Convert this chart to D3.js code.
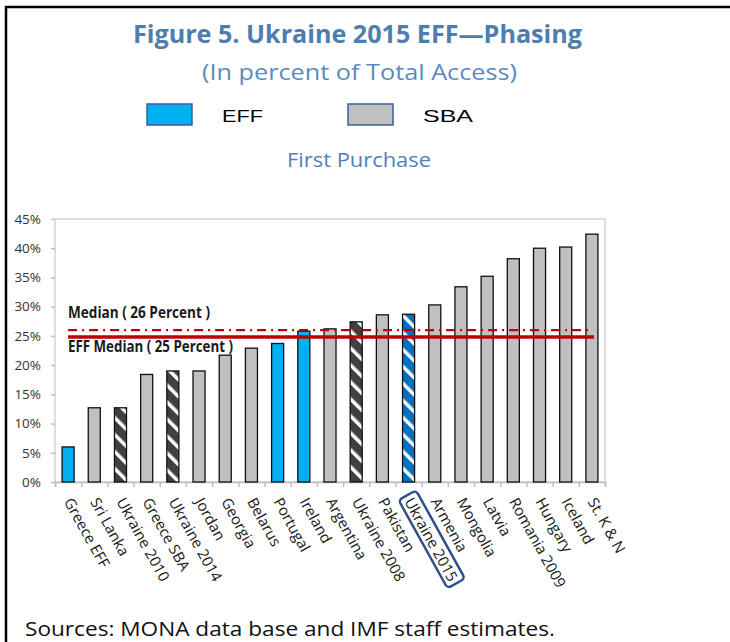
<!DOCTYPE html>
<html>
<head>
<meta charset="utf-8">
<script src="https://cdn.jsdelivr.net/npm/d3@7"></script>
<style>
  body { margin: 0; background: #fff; }
  svg { display: block; font-family: "Open Sans", sans-serif; }
</style>
</head>
<body>
<svg id="chart" width="730" height="642"></svg>
<script>
// data
const categories = ["Greece EFF", "Sri Lanka", "Ukraine 2010", "Greece SBA", "Ukraine 2014", "Jordan",
  "Georgia", "Belarus", "Portugal", "Ireland", "Argentina", "Ukraine 2008", "Pakistan", "Ukraine 2015",
  "Armenia", "Mongolia", "Latvia", "Romania 2009", "Hungary", "Iceland", "St. K & N"];
const values = [6.0, 12.7, 12.7, 18.4, 19.0, 19.0, 21.7, 22.9, 23.7, 25.8, 26.2, 27.4, 28.6, 28.7,
  30.3, 33.4, 35.2, 38.2, 40.0, 40.2, 42.4];
// eff / sba / ukrSba (hatched dark) / ukrEff (hatched blue)
const kinds = ["eff", "sba", "ukrSba", "sba", "ukrSba", "sba", "sba", "sba", "eff", "eff", "sba",
  "ukrSba", "sba", "ukrEff", "sba", "sba", "sba", "sba", "sba", "sba", "sba"];
const yTicks = [0, 5, 10, 15, 20, 25, 30, 35, 40, 45];
const medianLabels = ["Median ( 26 Percent )", "EFF Median ( 25 Percent )"];
const medianValues = [26, 24.8];
const legendItems = ["EFF", "SBA"];
const highlight = "Ukraine 2015";

const svg = d3.select("#chart");
const W = +svg.attr("width");

const fills = {
  eff: "#00b0f0",
  sba: "#c0c0c0",
  ukrSba: "url(#hatchDark)",
  ukrEff: "url(#hatchBlue)"
};

// hatch patterns
const defs = svg.append("defs");
[["hatchDark", "#404040"], ["hatchBlue", "#0070c0"]].forEach(([id, c]) => {
  const p = defs.append("pattern")
    .attr("id", id)
    .attr("patternUnits", "userSpaceOnUse")
    .attr("width", 12)
    .attr("height", 12)
    .attr("patternTransform", "rotate(-45)");
  p.append("rect").attr("width", 12).attr("height", 12).attr("fill", c);
  p.append("rect").attr("width", 3.5).attr("height", 12).attr("fill", "#fff");
});

// outer frame (only left and top visible)
svg.append("line").attr("x1", 6).attr("x2", 6).attr("y1", 6).attr("y2", 642)
  .attr("stroke", "#000").attr("stroke-width", 2.5);
svg.append("line").attr("x1", 5).attr("x2", W).attr("y1", 7).attr("y2", 7)
  .attr("stroke", "#000").attr("stroke-width", 2.5);

// titles
svg.append("text")
  .attr("x", 133).attr("y", 43)
  .attr("textLength", 449).attr("lengthAdjust", "spacingAndGlyphs")
  .style("font-size", "25px").style("font-weight", "bold")
  .attr("fill", "#4d7eae")
  .text("Figure 5. Ukraine 2015 EFF\u2014Phasing");

svg.append("text")
  .attr("x", 202).attr("y", 80)
  .attr("textLength", 315).attr("lengthAdjust", "spacingAndGlyphs")
  .style("font-size", "22px")
  .attr("fill", "#5a8bbf")
  .text("(In percent of Total Access)");

svg.append("text")
  .attr("x", 287).attr("y", 167)
  .attr("textLength", 144).attr("lengthAdjust", "spacingAndGlyphs")
  .style("font-size", "20px")
  .attr("fill", "#4f81bd")
  .text("First Purchase");

// legend
const legend = svg.append("g")
  .selectAll("g")
  .data(legendItems)
  .join("g")
  .attr("transform", (d, i) => `translate(${147 + i * 201},104)`);
legend.append("rect")
  .attr("width", 45).attr("height", 21)
  .attr("fill", (d) => (d === "EFF" ? fills.eff : fills.sba))
  .attr("stroke", "#3a5f9a").attr("stroke-width", 1.5);
legend.append("text")
  .attr("x", 75).attr("y", 18)
  .attr("textLength", (d) => (d === "EFF" ? 41 : 50)).attr("lengthAdjust", "spacingAndGlyphs")
  .style("font-family", "'Liberation Sans', Arial, sans-serif")
  .style("font-size", "16.5px")
  .attr("fill", "#000")
  .text((d) => d);

// scales
const x = d3.scaleBand()
  .domain(categories)
  .range([55, 605])
  .paddingInner(0.54)
  .paddingOuter(0.27);
const y = d3.scaleLinear().domain([0, 45]).range([482, 219]);
const xEdge = d3.scaleLinear().domain([0, categories.length]).range([55, 605]);

// plot frame
svg.append("rect")
  .attr("x", 55).attr("y", y(45))
  .attr("width", 550).attr("height", y(0) - y(45))
  .attr("fill", "none").attr("stroke", "#d4d4d4").attr("stroke-width", 1.5);

// y axis
const yAxis = svg.append("g")
  .attr("transform", "translate(55,0)")
  .call(d3.axisLeft(y).tickValues(yTicks).tickFormat((d) => d + "%").tickSize(4).tickPadding(10));
yAxis.select(".domain").remove();
yAxis.selectAll(".tick line").attr("stroke", "#bfbfbf").attr("stroke-width", 1.5);
yAxis.selectAll(".tick text")
  .style("font-family", "'Open Sans', sans-serif")
  .style("font-size", "13.5px")
  .attr("fill", "#333");

// x axis ticks at band edges
const xAxis = svg.append("g")
  .attr("transform", `translate(0,${y(0)})`)
  .call(d3.axisBottom(xEdge).tickValues(d3.range(categories.length + 1)).tickFormat("").tickSize(5));
xAxis.select(".domain").attr("stroke", "#bfbfbf").attr("stroke-width", 1.5);
xAxis.selectAll(".tick line").attr("stroke", "#bfbfbf").attr("stroke-width", 1.5);

// bars
svg.append("g")
  .selectAll("rect")
  .data(categories)
  .join("rect")
  .attr("x", (d) => x(d))
  .attr("y", (d, i) => y(values[i]))
  .attr("width", x.bandwidth())
  .attr("height", (d, i) => y(0) - y(values[i]))
  .attr("fill", (d, i) => fills[kinds[i]])
  .attr("stroke", "#111")
  .attr("stroke-width", 1.3);

// median lines
const first = x(categories[0]) + x.bandwidth() / 2;
const last = x(categories[categories.length - 1]) + x.bandwidth() / 2;
svg.append("line")
  .attr("x1", first).attr("x2", last)
  .attr("y1", y(medianValues[0])).attr("y2", y(medianValues[0]))
  .attr("stroke", "#c00000").attr("stroke-width", 2.2)
  .attr("stroke-dasharray", "9,5,2,5");
svg.append("line")
  .attr("x1", first).attr("x2", last + 2)
  .attr("y1", y(medianValues[1])).attr("y2", y(medianValues[1]))
  .attr("stroke", "#c00000").attr("stroke-width", 3.5);

svg.append("g")
  .selectAll("text")
  .data(medianLabels)
  .join("text")
  .attr("x", 68)
  .attr("y", (d, i) => (i === 0 ? y(medianValues[0]) - 12 : y(medianValues[1]) + 15))
  .attr("textLength", (d, i) => (i === 0 ? 142 : 165)).attr("lengthAdjust", "spacingAndGlyphs")
  .style("font-family", "'Liberation Sans Narrow', 'Open Sans', sans-serif")
  .style("font-size", "16.5px").style("font-weight", "bold")
  .attr("fill", "#1a1a1a")
  .text((d) => d);

// category labels, rotated
const labels = svg.append("g")
  .selectAll("g")
  .data(categories)
  .join("g")
  .attr("transform", (d) => `translate(${x(d) + x.bandwidth() / 2},499) rotate(61)`);
labels.append("text")
  .attr("dy", "0.35em")
  .style("font-size", "15px")
  .attr("fill", "#1a1a1a")
  .text((d) => d);

labels.filter((d) => d === highlight).each(function () {
  const g = d3.select(this);
  const b = g.select("text").node().getBBox();
  g.insert("rect", "text")
    .attr("x", b.x - 4).attr("y", b.y)
    .attr("width", b.width + 8).attr("height", b.height)
    .attr("rx", 4)
    .attr("fill", "none")
    .attr("stroke", "#2f4f8f").attr("stroke-width", 2.5);
});

// source note
svg.append("text")
  .attr("x", 25).attr("y", 636)
  .attr("textLength", 530).attr("lengthAdjust", "spacingAndGlyphs")
  .style("font-size", "20px")
  .attr("fill", "#111")
  .text("Sources: MONA data base and IMF staff estimates.");
</script>
</body>
</html>
